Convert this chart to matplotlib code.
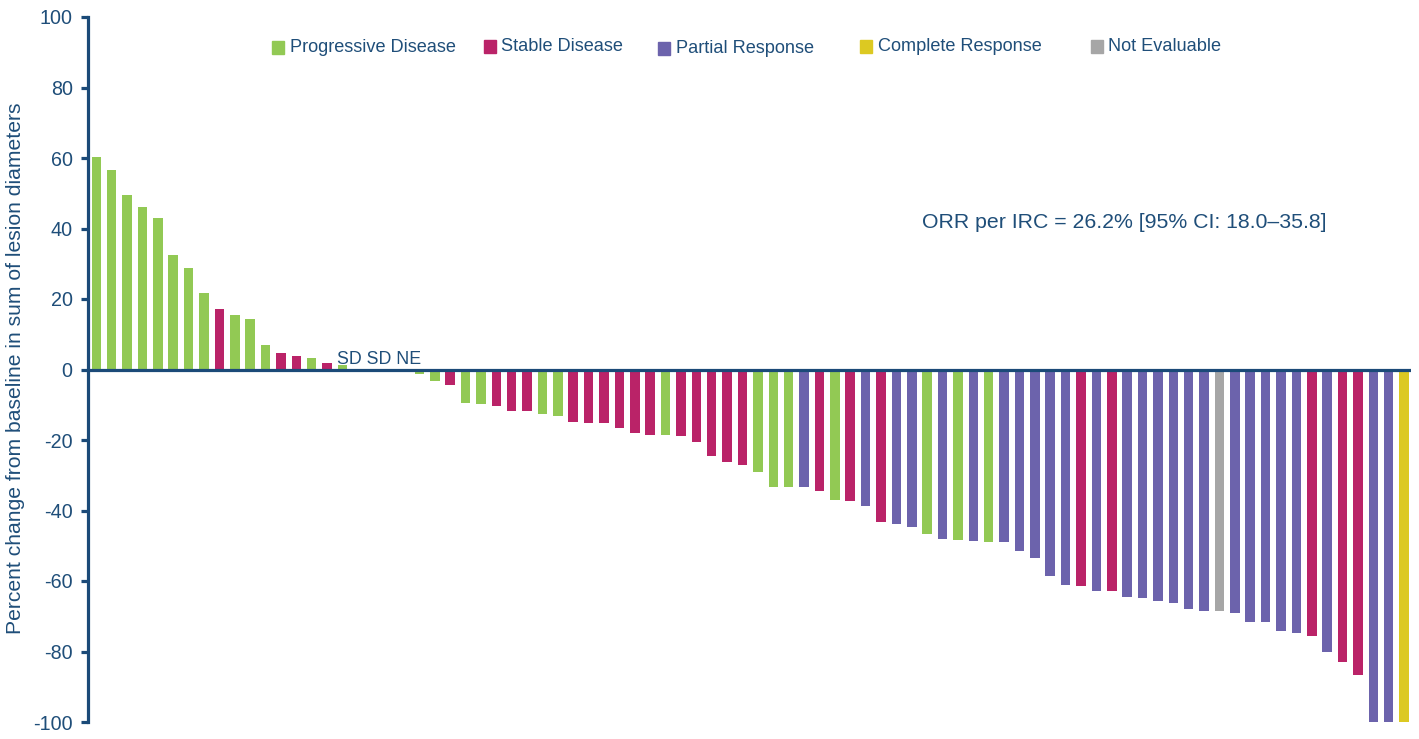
import matplotlib
matplotlib.use("Agg")
import matplotlib.pyplot as plt
from matplotlib.patches import Rectangle

plt.rcParams['font.family'] = ['Liberation Sans', 'DejaVu Sans']

# ---------------- data ----------------
values = [60.3, 56.7, 49.4, 46.0, 43.1, 32.6, 28.8, 21.7, 17.2, 15.5, 14.3, 7.0,
          4.7, 3.8, 3.3, 1.8, 1.3,
          0.0, 0.0, 0.0,
          -0.8,
          -1.2, -3.2, -4.3, -9.4, -9.7, -10.3, -11.7, -11.7, -12.5, -13.1,
          -14.8, -15.1, -15.1, -16.5, -17.9, -18.5, -18.5, -18.8, -20.5, -24.5,
          -26.2, -27.0, -29.0, -33.2, -33.2,
          -33.2, -34.4, -36.9, -37.2, -38.6, -43.2, -43.7, -44.8, -46.6, -48.0,
          -48.3, -48.6, -48.9, -48.9, -51.4, -53.4, -58.5, -61.0, -61.3, -62.8, -62.8,
          -64.5, -64.8, -65.6, -66.2, -67.9, -68.5, -68.5, -69.0, -71.5, -71.5,
          -74.1, -74.7, -75.5, -80.1, -82.9, -86.6, -100.0, -100.0, -100.0]

responses = (['PD'] * 8 + ['SD'] + ['PD'] * 3 + ['SD', 'SD'] + ['PD'] + ['SD'] + ['PD']
             + ['SD', 'SD', 'NE'] + ['NE']
             + ['PD', 'PD', 'SD', 'PD', 'PD', 'SD', 'SD', 'SD', 'PD', 'PD']
             + ['SD'] * 6 + ['PD'] + ['SD'] * 5 + ['PD'] * 3
             + ['PR', 'SD', 'PD', 'SD', 'PR', 'SD', 'PR', 'PR', 'PD', 'PR', 'PD', 'PR', 'PD']
             + ['PR'] * 5 + ['SD', 'PR', 'SD']
             + ['PR'] * 6 + ['NE'] + ['PR'] * 5 + ['SD', 'PR', 'SD', 'SD', 'PR', 'PR', 'CR'])

legend_codes = ['PD', 'SD', 'PR', 'CR', 'NE']
legend_labels = ['Progressive Disease', 'Stable Disease', 'Partial Response',
                 'Complete Response', 'Not Evaluable']
colors = {'PD': '#92C954', 'SD': '#BA2368', 'PR': '#6C63AC',
          'CR': '#DCC922', 'NE': '#A6A6A6'}

zero_label = 'SD SD NE'
orr_text = 'ORR per IRC = 26.2% [95% CI: 18.0\u201335.8]'
y_label = 'Percent change from baseline in sum of lesion diameters'
y_ticks = [-100, -80, -60, -40, -20, 0, 20, 40, 60, 80, 100]

# ---------------- figure ----------------
W, H = 1419, 739
navy = '#1B4A78'
textc = '#1F4E79'

fig = plt.figure(figsize=(W / 100, H / 100), dpi=100)
ax = fig.add_axes([88 / W, 1 - 722 / H, (1411 - 88) / W, (722 - 17) / H])

x = list(range(len(values)))
ax.bar(x, values, width=0.62, color=[colors[r] for r in responses], zorder=2)

ax.set_xlim(-0.54, len(values) - 1 + 0.45)
ax.set_ylim(-100, 100)
ax.axhline(0, color=navy, lw=2.3, zorder=3)

for s in ['top', 'right', 'bottom']:
    ax.spines[s].set_visible(False)
ax.spines['left'].set_color(navy)
ax.spines['left'].set_linewidth(2.3)
ax.set_xticks([])
ax.set_yticks(y_ticks)
ax.set_yticklabels([str(t) for t in y_ticks])
ax.tick_params(axis='y', colors=navy, labelcolor=textc, labelsize=14.2,
               length=5, width=2.3, pad=6)

# y label
fig.text(16 / W, 1 - 368 / H, y_label, fontsize=15.2, color=textc, rotation=90,
         ha='center', va='center')

# zero-bar annotation
ax.text(15.65, 1.7, zero_label, fontsize=12.8, color=textc, va='baseline', ha='left', zorder=4)

# ORR annotation
fig.text(922 / W, 1 - 222 / H, orr_text, fontsize=15.3, color=textc, ha='left', va='center')

# legend (manual)
leg_sq_x = [272, 484, 658, 860, 1091]
leg_txt_x = [290, 501, 676, 878, 1108]
leg_y = [47, 46, 48, 46, 46]
for code, lab, sx, tx, cy in zip(legend_codes, legend_labels, leg_sq_x, leg_txt_x, leg_y):
    fig.patches.append(Rectangle((sx / W, 1 - (cy + 6.5) / H), 12 / W, 13 / H,
                                 transform=fig.transFigure, color=colors[code]))
    fig.text(tx / W, 1 - (cy + 0.5) / H, lab, fontsize=13.1, color=textc, ha='left', va='center')

fig.savefig('out.png', dpi=100)
